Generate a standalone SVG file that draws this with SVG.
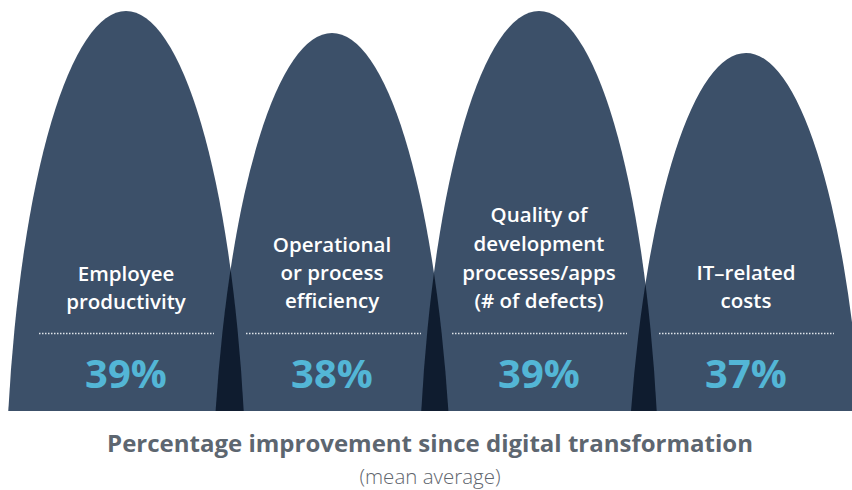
<svg xmlns="http://www.w3.org/2000/svg" width="852" height="490" viewBox="0 0 852 490">
  <style>
    .arch { fill: #3c5069; }
    .overlap { fill: #0f1c2f; }
    .label { font-family: "Open Sans", "Noto Sans", sans-serif; font-weight: 600; font-size: 20.5px; fill: #ffffff; text-anchor: middle; }
    .pct { font-family: "Open Sans", "Noto Sans", sans-serif; font-weight: 700; font-size: 40px; fill: #53b6d6; text-anchor: middle; }
    .dots { stroke: #dfe4ea; stroke-width: 1.5; stroke-dasharray: 1.5 1.5; fill: none; }
    .title { font-family: "Open Sans", "Noto Sans", sans-serif; font-weight: 700; font-size: 24px; fill: #5d6670; text-anchor: middle; }
    .sub { font-family: "Open Sans", "Noto Sans", sans-serif; font-weight: 300; font-size: 20.5px; fill: #5f666e; text-anchor: middle; }
  </style>
  <defs>
    <path id="a1" d="M8.27,411 A121,520 0 0 1 243.73,411 Z"/>
    <path id="a2" d="M215.6,411 A121,520 0 0 1 448.4,411 Z"/>
    <path id="a3" d="M421.27,411 A121,520 0 0 1 656.73,411 Z"/>
    <path id="a4" d="M631.02,411 A121,520 0 0 1 860.98,411 Z"/>
    <clipPath id="c1"><use href="#a1"/></clipPath>
    <clipPath id="c2"><use href="#a2"/></clipPath>
    <clipPath id="c3"><use href="#a3"/></clipPath>
  </defs>

  <g id="shapes">
    <use href="#a1" class="arch"/>
    <use href="#a2" class="arch"/>
    <use href="#a3" class="arch"/>
    <use href="#a4" class="arch"/>
    <use href="#a2" class="overlap" clip-path="url(#c1)"/>
    <use href="#a3" class="overlap" clip-path="url(#c2)"/>
    <use href="#a4" class="overlap" clip-path="url(#c3)"/>
  </g>

  <g id="node-employee">
    <text class="label" x="126" y="281">Employee</text>
    <text class="label" x="126" y="309">productivity</text>
    <line class="dots" x1="39" y1="333.5" x2="214" y2="333.5"/>
    <text class="pct" x="126" y="388">39%</text>
  </g>

  <g id="node-operational">
    <text class="label" x="332" y="252">Operational</text>
    <text class="label" x="332" y="280">or process</text>
    <text class="label" x="332" y="308">efficiency</text>
    <line class="dots" x1="246" y1="333.5" x2="421" y2="333.5"/>
    <text class="pct" x="332" y="388">38%</text>
  </g>

  <g id="node-quality">
    <text class="label" x="539" y="222">Quality of</text>
    <text class="label" x="539" y="251">development</text>
    <text class="label" x="539" y="280">processes/apps</text>
    <text class="label" x="539" y="308">(# of defects)</text>
    <line class="dots" x1="452" y1="333.5" x2="627" y2="333.5"/>
    <text class="pct" x="539" y="388">39%</text>
  </g>

  <g id="node-it">
    <text class="label" x="746" y="280">IT–related</text>
    <text class="label" x="746" y="308">costs</text>
    <line class="dots" x1="659" y1="333.5" x2="834" y2="333.5"/>
    <text class="pct" x="746" y="388">37%</text>
  </g>

  <g id="connectors"></g>

  <g id="caption">
    <text class="title" x="430" y="452">Percentage improvement since digital transformation</text>
    <text class="sub" x="430" y="484">(mean average)</text>
  </g>
</svg>
